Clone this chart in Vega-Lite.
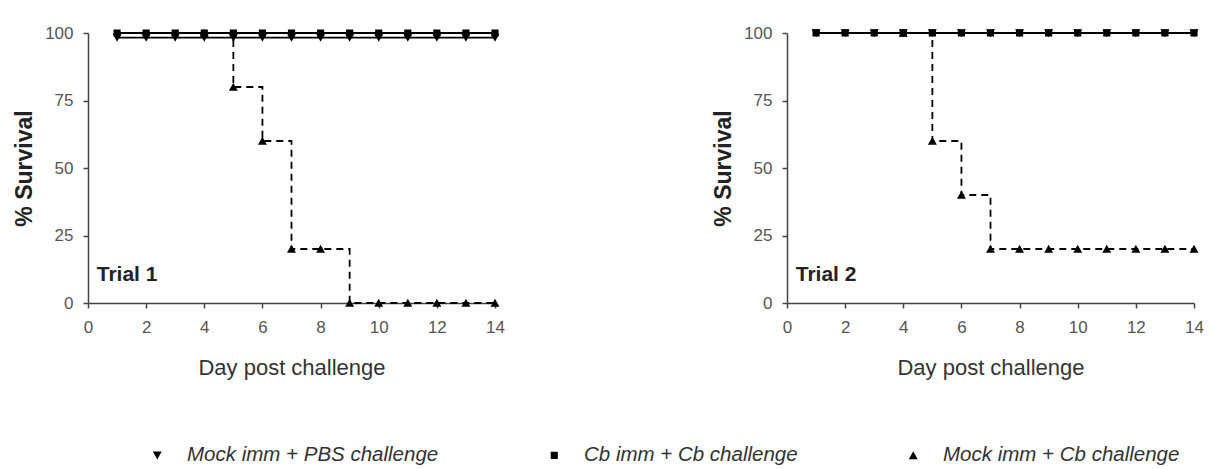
{
  "$schema": "https://vega.github.io/schema/vega-lite/v6.json",
  "background": "white",
  "padding": {"left": 13, "top": 24, "right": 5, "bottom": 0},
  "datasets": {
    "surv": [
      {"trial": 1, "group": "Mock imm + PBS challenge", "day": 1, "survival": 98.3},
      {"trial": 1, "group": "Mock imm + PBS challenge", "day": 2, "survival": 98.3},
      {"trial": 1, "group": "Mock imm + PBS challenge", "day": 3, "survival": 98.3},
      {"trial": 1, "group": "Mock imm + PBS challenge", "day": 4, "survival": 98.3},
      {"trial": 1, "group": "Mock imm + PBS challenge", "day": 5, "survival": 98.3},
      {"trial": 1, "group": "Mock imm + PBS challenge", "day": 6, "survival": 98.3},
      {"trial": 1, "group": "Mock imm + PBS challenge", "day": 7, "survival": 98.3},
      {"trial": 1, "group": "Mock imm + PBS challenge", "day": 8, "survival": 98.3},
      {"trial": 1, "group": "Mock imm + PBS challenge", "day": 9, "survival": 98.3},
      {"trial": 1, "group": "Mock imm + PBS challenge", "day": 10, "survival": 98.3},
      {"trial": 1, "group": "Mock imm + PBS challenge", "day": 11, "survival": 98.3},
      {"trial": 1, "group": "Mock imm + PBS challenge", "day": 12, "survival": 98.3},
      {"trial": 1, "group": "Mock imm + PBS challenge", "day": 13, "survival": 98.3},
      {"trial": 1, "group": "Mock imm + PBS challenge", "day": 14, "survival": 98.3},
      {"trial": 1, "group": "Cb imm + Cb challenge", "day": 1, "survival": 100},
      {"trial": 1, "group": "Cb imm + Cb challenge", "day": 2, "survival": 100},
      {"trial": 1, "group": "Cb imm + Cb challenge", "day": 3, "survival": 100},
      {"trial": 1, "group": "Cb imm + Cb challenge", "day": 4, "survival": 100},
      {"trial": 1, "group": "Cb imm + Cb challenge", "day": 5, "survival": 100},
      {"trial": 1, "group": "Cb imm + Cb challenge", "day": 6, "survival": 100},
      {"trial": 1, "group": "Cb imm + Cb challenge", "day": 7, "survival": 100},
      {"trial": 1, "group": "Cb imm + Cb challenge", "day": 8, "survival": 100},
      {"trial": 1, "group": "Cb imm + Cb challenge", "day": 9, "survival": 100},
      {"trial": 1, "group": "Cb imm + Cb challenge", "day": 10, "survival": 100},
      {"trial": 1, "group": "Cb imm + Cb challenge", "day": 11, "survival": 100},
      {"trial": 1, "group": "Cb imm + Cb challenge", "day": 12, "survival": 100},
      {"trial": 1, "group": "Cb imm + Cb challenge", "day": 13, "survival": 100},
      {"trial": 1, "group": "Cb imm + Cb challenge", "day": 14, "survival": 100},
      {"trial": 1, "group": "Mock imm + Cb challenge", "day": 4, "survival": 100},
      {"trial": 1, "group": "Mock imm + Cb challenge", "day": 5, "survival": 80},
      {"trial": 1, "group": "Mock imm + Cb challenge", "day": 6, "survival": 60},
      {"trial": 1, "group": "Mock imm + Cb challenge", "day": 7, "survival": 20},
      {"trial": 1, "group": "Mock imm + Cb challenge", "day": 8, "survival": 20},
      {"trial": 1, "group": "Mock imm + Cb challenge", "day": 9, "survival": 0},
      {"trial": 1, "group": "Mock imm + Cb challenge", "day": 10, "survival": 0},
      {"trial": 1, "group": "Mock imm + Cb challenge", "day": 11, "survival": 0},
      {"trial": 1, "group": "Mock imm + Cb challenge", "day": 12, "survival": 0},
      {"trial": 1, "group": "Mock imm + Cb challenge", "day": 13, "survival": 0},
      {"trial": 1, "group": "Mock imm + Cb challenge", "day": 14, "survival": 0},
      {"trial": 2, "group": "Mock imm + PBS challenge", "day": 1, "survival": 100},
      {"trial": 2, "group": "Mock imm + PBS challenge", "day": 2, "survival": 100},
      {"trial": 2, "group": "Mock imm + PBS challenge", "day": 3, "survival": 100},
      {"trial": 2, "group": "Mock imm + PBS challenge", "day": 4, "survival": 100},
      {"trial": 2, "group": "Mock imm + PBS challenge", "day": 5, "survival": 100},
      {"trial": 2, "group": "Mock imm + PBS challenge", "day": 6, "survival": 100},
      {"trial": 2, "group": "Mock imm + PBS challenge", "day": 7, "survival": 100},
      {"trial": 2, "group": "Mock imm + PBS challenge", "day": 8, "survival": 100},
      {"trial": 2, "group": "Mock imm + PBS challenge", "day": 9, "survival": 100},
      {"trial": 2, "group": "Mock imm + PBS challenge", "day": 10, "survival": 100},
      {"trial": 2, "group": "Mock imm + PBS challenge", "day": 11, "survival": 100},
      {"trial": 2, "group": "Mock imm + PBS challenge", "day": 12, "survival": 100},
      {"trial": 2, "group": "Mock imm + PBS challenge", "day": 13, "survival": 100},
      {"trial": 2, "group": "Mock imm + PBS challenge", "day": 14, "survival": 100},
      {"trial": 2, "group": "Cb imm + Cb challenge", "day": 1, "survival": 100},
      {"trial": 2, "group": "Cb imm + Cb challenge", "day": 2, "survival": 100},
      {"trial": 2, "group": "Cb imm + Cb challenge", "day": 3, "survival": 100},
      {"trial": 2, "group": "Cb imm + Cb challenge", "day": 4, "survival": 100},
      {"trial": 2, "group": "Cb imm + Cb challenge", "day": 5, "survival": 100},
      {"trial": 2, "group": "Cb imm + Cb challenge", "day": 6, "survival": 100},
      {"trial": 2, "group": "Cb imm + Cb challenge", "day": 7, "survival": 100},
      {"trial": 2, "group": "Cb imm + Cb challenge", "day": 8, "survival": 100},
      {"trial": 2, "group": "Cb imm + Cb challenge", "day": 9, "survival": 100},
      {"trial": 2, "group": "Cb imm + Cb challenge", "day": 10, "survival": 100},
      {"trial": 2, "group": "Cb imm + Cb challenge", "day": 11, "survival": 100},
      {"trial": 2, "group": "Cb imm + Cb challenge", "day": 12, "survival": 100},
      {"trial": 2, "group": "Cb imm + Cb challenge", "day": 13, "survival": 100},
      {"trial": 2, "group": "Cb imm + Cb challenge", "day": 14, "survival": 100},
      {"trial": 2, "group": "Mock imm + Cb challenge", "day": 4, "survival": 100},
      {"trial": 2, "group": "Mock imm + Cb challenge", "day": 5, "survival": 60},
      {"trial": 2, "group": "Mock imm + Cb challenge", "day": 6, "survival": 40},
      {"trial": 2, "group": "Mock imm + Cb challenge", "day": 7, "survival": 20},
      {"trial": 2, "group": "Mock imm + Cb challenge", "day": 8, "survival": 20},
      {"trial": 2, "group": "Mock imm + Cb challenge", "day": 9, "survival": 20},
      {"trial": 2, "group": "Mock imm + Cb challenge", "day": 10, "survival": 20},
      {"trial": 2, "group": "Mock imm + Cb challenge", "day": 11, "survival": 20},
      {"trial": 2, "group": "Mock imm + Cb challenge", "day": 12, "survival": 20},
      {"trial": 2, "group": "Mock imm + Cb challenge", "day": 13, "survival": 20},
      {"trial": 2, "group": "Mock imm + Cb challenge", "day": 14, "survival": 20}
    ],
    "labels": [
      {"trial": 1, "label": "Trial 1", "day": 0.3, "survival": 10.5},
      {"trial": 2, "label": "Trial 2", "day": 0.3, "survival": 10.5}
    ]
  },
  "spacing": 193,
  "hconcat": [
    {
      "width": 407,
      "height": 270,
      "layer": [
        {
          "data": {"name": "surv"},
          "transform": [{"filter": "datum.trial === 1"}],
          "mark": {"type": "line", "interpolate": "step-after", "color": "black"},
          "encoding": {
            "x": {"field": "day", "type": "quantitative", "scale": {"domain": [0, 14], "nice": false}, "axis": {"values": [0, 2, 4, 6, 8, 10, 12, 14], "title": "Day post challenge"}},
            "y": {"field": "survival", "type": "quantitative", "scale": {"domain": [0, 100], "nice": false}, "axis": {"values": [0, 25, 50, 75, 100], "title": "% Survival"}},
            "detail": {"field": "group"},
            "strokeWidth": {"field": "group", "type": "nominal", "legend": null, "scale": {"domain": ["Mock imm + PBS challenge", "Cb imm + Cb challenge", "Mock imm + Cb challenge"], "range": [1.8, 1.8, 1.4]}},
            "strokeDash": {"field": "group", "type": "nominal", "title": null, "sort": ["Mock imm + PBS challenge", "Cb imm + Cb challenge", "Mock imm + Cb challenge"], "scale": {"domain": ["Mock imm + PBS challenge", "Cb imm + Cb challenge", "Mock imm + Cb challenge"], "range": [[1, 0], [1, 0], [7, 5]]},
              "legend": {"orient": "none", "legendX": 59, "legendY": 412}}
          }
        },
        {
          "data": {"name": "surv"},
          "transform": [{"filter": "datum.trial === 1"}],
          "mark": {"type": "point", "filled": true, "color": "black", "stroke": "black", "strokeWidth": 1.5, "strokeDash": [0, 100], "opacity": 1, "size": 80},
          "encoding": {
            "x": {"field": "day", "type": "quantitative"},
            "y": {"field": "survival", "type": "quantitative"},
            "shape": {"field": "group", "type": "nominal", "title": null, "sort": ["Mock imm + PBS challenge", "Cb imm + Cb challenge", "Mock imm + Cb challenge"],
              "scale": {"domain": ["Mock imm + PBS challenge", "Cb imm + Cb challenge", "Mock imm + Cb challenge"], "range": ["M-4.5,0H4.5M-1,-0.85H1L0,0.95Z", "M-4.5,0H4.5M-0.8,-0.8H0.8V0.8H-0.8Z", "M-4.5,0H4.5M-1,0.85H1L0,-0.95Z"]},
              "legend": {"orient": "none", "legendX": 59, "legendY": 412}}
          }
        },
        {
          "data": {"name": "labels"},
          "transform": [{"filter": "datum.trial === 1"}],
          "mark": {"type": "text", "align": "left", "baseline": "middle", "fontWeight": "bold", "fontSize": 21, "color": "#222", "font": "Liberation Sans"},
          "encoding": {
            "x": {"field": "day", "type": "quantitative"},
            "y": {"field": "survival", "type": "quantitative"},
            "text": {"field": "label"}
          }
        }
      ]
    },
    {
      "width": 407,
      "height": 270,
      "layer": [
        {
          "data": {"name": "surv"},
          "transform": [{"filter": "datum.trial === 2"}],
          "mark": {"type": "line", "interpolate": "step-after", "color": "black"},
          "encoding": {
            "x": {"field": "day", "type": "quantitative", "scale": {"domain": [0, 14], "nice": false}, "axis": {"values": [0, 2, 4, 6, 8, 10, 12, 14], "title": "Day post challenge"}},
            "y": {"field": "survival", "type": "quantitative", "scale": {"domain": [0, 100], "nice": false}, "axis": {"values": [0, 25, 50, 75, 100], "title": "% Survival"}},
            "detail": {"field": "group"},
            "strokeWidth": {"field": "group", "type": "nominal", "legend": null, "scale": {"domain": ["Mock imm + PBS challenge", "Cb imm + Cb challenge", "Mock imm + Cb challenge"], "range": [1.8, 1.8, 1.4]}},
            "strokeDash": {"field": "group", "type": "nominal", "title": null, "sort": ["Mock imm + PBS challenge", "Cb imm + Cb challenge", "Mock imm + Cb challenge"], "scale": {"domain": ["Mock imm + PBS challenge", "Cb imm + Cb challenge", "Mock imm + Cb challenge"], "range": [[1, 0], [1, 0], [7, 5]]},
              "legend": {"orient": "none", "legendX": 59, "legendY": 412}}
          }
        },
        {
          "data": {"name": "surv"},
          "transform": [{"filter": "datum.trial === 2"}],
          "mark": {"type": "point", "filled": true, "color": "black", "stroke": "black", "strokeWidth": 1.5, "strokeDash": [0, 100], "opacity": 1, "size": 80},
          "encoding": {
            "x": {"field": "day", "type": "quantitative"},
            "y": {"field": "survival", "type": "quantitative"},
            "shape": {"field": "group", "type": "nominal", "title": null, "sort": ["Mock imm + PBS challenge", "Cb imm + Cb challenge", "Mock imm + Cb challenge"],
              "scale": {"domain": ["Mock imm + PBS challenge", "Cb imm + Cb challenge", "Mock imm + Cb challenge"], "range": ["M-4.5,0H4.5M-1,-0.85H1L0,0.95Z", "M-4.5,0H4.5M-0.8,-0.8H0.8V0.8H-0.8Z", "M-4.5,0H4.5M-1,0.85H1L0,-0.95Z"]},
              "legend": {"orient": "none", "legendX": 59, "legendY": 412}}
          }
        },
        {
          "data": {"name": "labels"},
          "transform": [{"filter": "datum.trial === 2"}],
          "mark": {"type": "text", "align": "left", "baseline": "middle", "fontWeight": "bold", "fontSize": 21, "color": "#222", "font": "Liberation Sans"},
          "encoding": {
            "x": {"field": "day", "type": "quantitative"},
            "y": {"field": "survival", "type": "quantitative"},
            "text": {"field": "label"}
          }
        }
      ]
    }
  ],
  "config": {
    "font": "Liberation Sans",
    "view": {"stroke": null},
    "axis": {
      "grid": false,
      "domainColor": "#444",
      "domainWidth": 1.5,
      "tickColor": "#444",
      "tickWidth": 1.5,
      "tickSize": 5,
      "labelColor": "#555",
      "labelFontSize": 17,
      "labelFont": "Liberation Sans",
      "titleFont": "Liberation Sans"
    },
    "axisX": {"titleFontWeight": "normal", "titleColor": "#333", "titleFontSize": 22, "titlePadding": 22, "labelPadding": 11, "labelFlush": false},
    "axisY": {"titleFontWeight": "bold", "titleColor": "#222", "titleFontSize": 23, "titlePadding": 8, "labelPadding": 10, "labelFlush": false},
    "legend": {
      "direction": "horizontal",
      "labelFontSize": 20.5,
      "labelFontStyle": "italic",
      "labelColor": "#333",
      "labelFont": "Liberation Sans",
      "labelLimit": 0,
      "labelOffset": 19.5,
      "symbolStrokeWidth": 1.5,
      "symbolFillColor": "black",
      "symbolStrokeColor": "black",
      "symbolSize": 79,
      "columnPadding": 91
    }
  }
}
